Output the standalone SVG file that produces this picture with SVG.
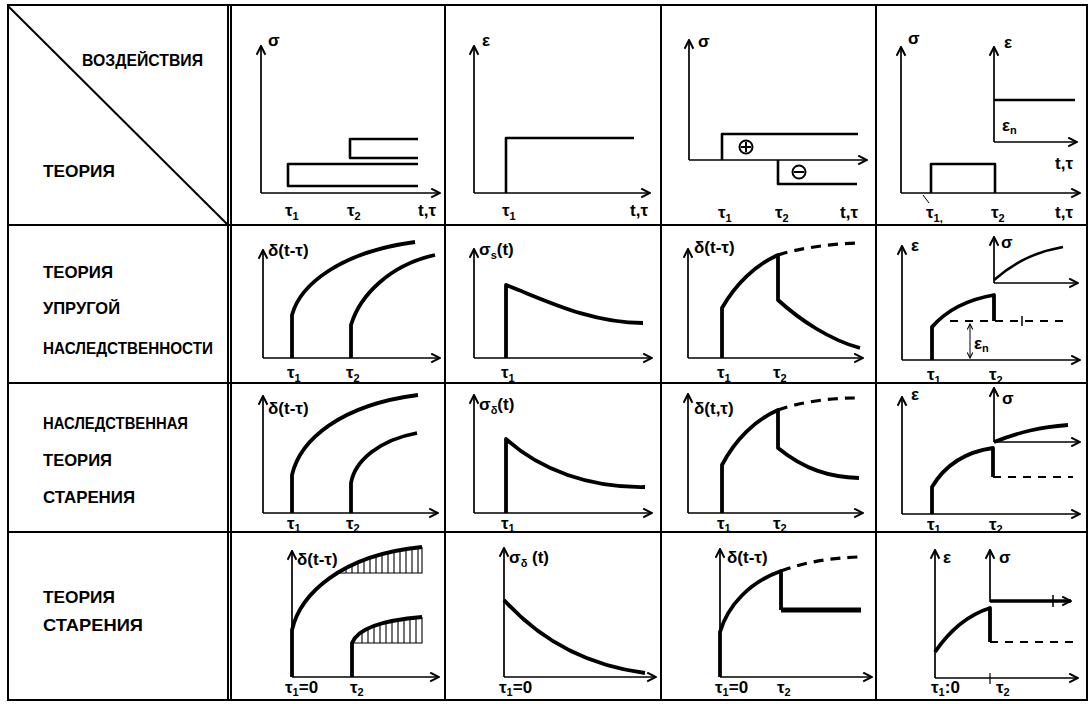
<svg xmlns="http://www.w3.org/2000/svg" width="1091" height="704" viewBox="0 0 1091 704">
<defs>
<marker id="ar" viewBox="0 0 10 10" refX="9" refY="5" markerWidth="11" markerHeight="11" markerUnits="userSpaceOnUse" orient="auto"><path d="M1,1 L9,5 L1,9" fill="none" stroke="#000" stroke-width="1.8"/></marker>
<marker id="ar2" viewBox="0 0 10 10" refX="9" refY="5" markerWidth="7" markerHeight="7" markerUnits="userSpaceOnUse" orient="auto-start-reverse"><path d="M1,1 L9,5 L1,9" fill="none" stroke="#000" stroke-width="1.5"/></marker>
<style>
.grid{stroke:#000;stroke-width:2;fill:none}
.ax{stroke:#000;stroke-width:1.7;fill:none;marker-end:url(#ar)}
.cv{stroke:#000;stroke-width:3.8;fill:none;stroke-linejoin:round}
.th{stroke:#000;stroke-width:2.6;fill:none;stroke-linejoin:round}
.ds{stroke:#000;stroke-width:3.2;fill:none;stroke-dasharray:10 7}
.dt{stroke:#000;stroke-width:1.8;fill:none;stroke-dasharray:8 7}
.ht{stroke:#000;stroke-width:1.1;fill:none}
.hd{font-family:"Liberation Sans","DejaVu Sans",sans-serif;font-weight:bold;font-size:17px;fill:#000}
.lb{font-family:"Liberation Sans","DejaVu Sans",sans-serif;font-weight:bold;font-size:17px;fill:#000}
.sb{font-size:11px}
</style>
</defs>
<rect width="1091" height="704" fill="#fff"/>

<g id="grid">
<rect class="grid" x="8" y="5" width="1079" height="695"/>
<line class="grid" x1="228" y1="5" x2="228" y2="700"/>
<line class="grid" x1="231" y1="5" x2="231" y2="700" stroke-width="1.2"/>
<line class="grid" x1="445" y1="5" x2="445" y2="700" stroke-width="1.5"/>
<line class="grid" x1="661" y1="5" x2="661" y2="700" stroke-width="1.5"/>
<line class="grid" x1="876" y1="5" x2="876" y2="700" stroke-width="1.5"/>
<line class="grid" x1="8" y1="225" x2="1087" y2="225" stroke-width="1.6"/>
<line class="grid" x1="8" y1="383" x2="1087" y2="383" stroke-width="1.6"/>
<line class="grid" x1="8" y1="532" x2="1087" y2="532" stroke-width="1.6"/>
<line class="grid" x1="8" y1="6" x2="228" y2="225" stroke-width="1.6"/>
</g>

<g id="headers">
<text class="hd" x="82" y="66" textLength="121" lengthAdjust="spacingAndGlyphs">ВОЗДЕЙСТВИЯ</text>
<text class="hd" x="43" y="177" textLength="72" lengthAdjust="spacingAndGlyphs">ТЕОРИЯ</text>
<text class="hd" x="43" y="278" textLength="70" lengthAdjust="spacingAndGlyphs">ТЕОРИЯ</text>
<text class="hd" x="43" y="314" textLength="77" lengthAdjust="spacingAndGlyphs">УПРУГОЙ</text>
<text class="hd" x="43" y="354" textLength="170" lengthAdjust="spacingAndGlyphs">НАСЛЕДСТВЕННОСТИ</text>
<text class="hd" x="43" y="429" textLength="145" lengthAdjust="spacingAndGlyphs">НАСЛЕДСТВЕННАЯ</text>
<text class="hd" x="43" y="466" textLength="69" lengthAdjust="spacingAndGlyphs">ТЕОРИЯ</text>
<text class="hd" x="43" y="503" textLength="92" lengthAdjust="spacingAndGlyphs">СТАРЕНИЯ</text>
<text class="hd" x="43" y="603" textLength="72" lengthAdjust="spacingAndGlyphs">ТЕОРИЯ</text>
<text class="hd" x="43" y="631" textLength="100" lengthAdjust="spacingAndGlyphs">СТАРЕНИЯ</text>
</g>

<g id="r1c1">
<line class="ax" x1="261" y1="193" x2="261" y2="46"/>
<line class="ax" x1="261" y1="193" x2="440" y2="193"/>
<text class="lb" x="268" y="46" font-size="19">σ</text>
<path class="th" d="M418,164 H288 V186 H418"/>
<path class="th" d="M418,139 H350 V158 H418"/>
<text class="lb" x="285" y="216">τ<tspan class="sb" dy="4">1</tspan></text>
<text class="lb" x="347" y="216">τ<tspan class="sb" dy="4">2</tspan></text>
<text class="lb" x="418" y="216">t,τ</text>
</g>

<g id="r1c2">
<line class="ax" x1="474" y1="193" x2="474" y2="46"/>
<line class="ax" x1="474" y1="193" x2="650" y2="193"/>
<text class="lb" x="482" y="46" font-size="19">ε</text>
<path class="th" d="M506,193 V138 H634"/>
<text class="lb" x="502" y="216">τ<tspan class="sb" dy="4">1</tspan></text>
<text class="lb" x="630" y="216">t,τ</text>
</g>

<g id="r1c3">
<line class="ax" x1="689" y1="160" x2="689" y2="40"/>
<line class="ax" x1="689" y1="160" x2="867" y2="160"/>
<text class="lb" x="698" y="47" font-size="19">σ</text>
<path class="th" d="M722,160 V134 H858"/>
<path class="th" d="M778,160 V184 H857"/>
<circle cx="746" cy="147" r="6.5" fill="none" stroke="#000" stroke-width="2"/>
<path d="M741,147 H751 M746,142 V152" stroke="#000" stroke-width="2"/>
<circle cx="799" cy="172" r="6.5" fill="none" stroke="#000" stroke-width="2"/>
<path d="M794,172 H804" stroke="#000" stroke-width="2"/>
<text class="lb" x="718" y="218">τ<tspan class="sb" dy="4">1</tspan></text>
<text class="lb" x="775" y="218">τ<tspan class="sb" dy="4">2</tspan></text>
<text class="lb" x="840" y="218">t,τ</text>
</g>

<g id="r1c4">
<line class="ax" x1="901" y1="193" x2="901" y2="47"/>
<line class="ax" x1="901" y1="193" x2="1080" y2="193"/>
<text class="lb" x="908" y="44" font-size="19">σ</text>
<path class="th" d="M931,193 V164 H995 V193" stroke-width="2.2"/>
<line class="ax" x1="994" y1="142" x2="994" y2="47"/>
<line class="ax" x1="994" y1="142" x2="1077" y2="142"/>
<text class="lb" x="1004" y="48" font-size="19">ε</text>
<path class="th" d="M994,100 H1075"/>
<text class="lb" x="1002" y="131">ε<tspan class="sb" dy="3">n</tspan></text>
<text class="lb" x="1055" y="169">t,τ</text>
<line x1="923" y1="195" x2="929" y2="203" stroke="#000" stroke-width="1"/>
<text class="lb" x="926" y="218">τ<tspan class="sb" dy="4">1,</tspan></text>
<text class="lb" x="991" y="218">τ<tspan class="sb" dy="4">2</tspan></text>
<text class="lb" x="1055" y="218">t,τ</text>
</g>

<g id="r2c1">
<line class="ax" x1="263" y1="358" x2="263" y2="250"/>
<line class="ax" x1="263" y1="358" x2="440" y2="358"/>
<text class="lb" x="268" y="256">δ(t-τ)</text>
<path class="cv" d="M292,358 V315 C300,285 340,252 415,242"/>
<path class="cv" d="M351,358 V325 C360,295 390,265 435,255"/>
<text class="lb" x="287" y="378">τ<tspan class="sb" dy="4">1</tspan></text>
<text class="lb" x="346" y="378">τ<tspan class="sb" dy="4">2</tspan></text>
</g>

<g id="r2c2">
<line class="ax" x1="474" y1="358" x2="474" y2="249"/>
<line class="ax" x1="474" y1="358" x2="652" y2="358"/>
<text class="lb" x="479" y="255">σ<tspan class="sb" dy="4">s</tspan><tspan dy="-4">(t)</tspan></text>
<path class="cv" d="M506,358 V285 C545,300 590,323 643,323"/>
<text class="lb" x="501" y="378">τ<tspan class="sb" dy="4">1</tspan></text>
</g>

<g id="r2c3">
<line class="ax" x1="688" y1="358" x2="688" y2="249"/>
<line class="ax" x1="688" y1="358" x2="863" y2="358"/>
<text class="lb" x="694" y="253">δ(t-τ)</text>
<path class="cv" d="M722,358 V308 C735,285 755,265 778,255 V300 C800,320 830,340 860,348"/>
<path class="ds" d="M778,255 C800,248 830,244 858,243"/>
<text class="lb" x="717" y="378">τ<tspan class="sb" dy="4">1</tspan></text>
<text class="lb" x="773" y="378">τ<tspan class="sb" dy="4">2</tspan></text>
</g>

<g id="r2c4">
<line class="ax" x1="902" y1="360" x2="902" y2="246"/>
<line class="ax" x1="902" y1="360" x2="1080" y2="360"/>
<text class="lb" x="911" y="251" font-size="19">ε</text>
<path class="cv" d="M932,360 V327 C945,312 965,300 994,295 V321"/>
<path class="dt" d="M950,321 H1068"/>
<line x1="1022" y1="316" x2="1022" y2="326" stroke="#000" stroke-width="1.5"/>
<line x1="970" y1="324" x2="970" y2="358" stroke="#000" stroke-width="1" marker-start="url(#ar2)" marker-end="url(#ar2)"/>
<text class="lb" x="974" y="349">ε<tspan class="sb" dy="3">n</tspan></text>
<line class="ax" x1="994" y1="283" x2="994" y2="237"/>
<line class="ax" x1="994" y1="283" x2="1078" y2="283"/>
<text class="lb" x="1001" y="248">σ</text>
<path class="th" d="M994,280 C1015,262 1035,252 1063,247" stroke-width="3"/>
<text class="lb" x="927" y="380">τ<tspan class="sb" dy="4">1</tspan></text>
<text class="lb" x="989" y="380">τ<tspan class="sb" dy="4">2</tspan></text>
</g>

<g id="r3c1">
<line class="ax" x1="263" y1="513" x2="263" y2="396"/>
<line class="ax" x1="263" y1="513" x2="438" y2="513"/>
<text class="lb" x="268" y="414">δ(t-τ)</text>
<path class="cv" d="M292,513 V475 C300,440 340,405 418,395"/>
<path class="cv" d="M351,513 V483 C355,460 380,440 417,433"/>
<text class="lb" x="287" y="529">τ<tspan class="sb" dy="3">1</tspan></text>
<text class="lb" x="346" y="529">τ<tspan class="sb" dy="3">2</tspan></text>
</g>

<g id="r3c2">
<line class="ax" x1="474" y1="513" x2="474" y2="395"/>
<line class="ax" x1="474" y1="513" x2="652" y2="513"/>
<text class="lb" x="479" y="410">σ<tspan class="sb" dy="4">δ</tspan><tspan dy="-4">(t)</tspan></text>
<path class="cv" d="M506,513 V439 C540,470 590,488 645,487"/>
<text class="lb" x="501" y="529">τ<tspan class="sb" dy="3">1</tspan></text>
</g>

<g id="r3c3">
<line class="ax" x1="688" y1="513" x2="688" y2="394"/>
<line class="ax" x1="688" y1="513" x2="863" y2="513"/>
<text class="lb" x="694" y="414">δ(t,τ)</text>
<path class="cv" d="M722,513 V465 C735,440 755,420 778,410 V448 C805,470 830,477 859,478"/>
<path class="ds" d="M778,410 C800,402 830,398 855,398"/>
<text class="lb" x="717" y="529">τ<tspan class="sb" dy="3">1</tspan></text>
<text class="lb" x="773" y="529">τ<tspan class="sb" dy="3">2</tspan></text>
</g>

<g id="r3c4">
<line class="ax" x1="902" y1="514" x2="902" y2="397"/>
<line class="ax" x1="902" y1="514" x2="1080" y2="514"/>
<text class="lb" x="911" y="400" font-size="19">ε</text>
<path class="cv" d="M932,514 V487 C945,465 965,452 993,448 V477"/>
<path class="dt" d="M993,477 H1073"/>
<line class="ax" x1="994" y1="442" x2="994" y2="388"/>
<line class="ax" x1="994" y1="442" x2="1080" y2="442"/>
<text class="lb" x="1002" y="404" font-size="19">σ</text>
<path class="cv" d="M994,442 C1020,432 1040,427 1068,425"/>
<text class="lb" x="927" y="530">τ<tspan class="sb" dy="3">1</tspan></text>
<text class="lb" x="989" y="530">τ<tspan class="sb" dy="3">2</tspan></text>
</g>

<g id="r4c1">
<line class="ax" x1="292" y1="677" x2="292" y2="551"/>
<line class="ax" x1="292" y1="677" x2="439" y2="677"/>
<text class="lb" x="297" y="565">δ(t-τ)</text>
<path class="cv" d="M292,677 V630 C300,595 340,555 422,547"/>
<path class="ht" d="M338,573 H422 V547 M346,568.5 V573 M352,566 V573 M358,562.5 V573 M364,560 V573 M370,558 V573 M376,556 V573 M382,554.5 V573 M388,553 V573 M394,551.5 V573 M400,550.3 V573 M406,549.5 V573 M412,548.5 V573 M418,547.7 V573"/>
<path class="cv" d="M352,677 V643 C358,628 385,620 422,617"/>
<path class="ht" d="M352,643 H422 V617 M362,633 V643 M368,629.5 V643 M374,626 V643 M380,624.5 V643 M386,623 V643 M392,621.5 V643 M398,620.7 V643 M404,619.7 V643 M410,618.5 V643 M416,617.6 V643"/>
<text class="lb" x="285" y="693">τ<tspan class="sb" dy="3">1</tspan><tspan dy="-3">=0</tspan></text>
<text class="lb" x="350" y="693">τ<tspan class="sb" dy="3">2</tspan></text>
</g>

<g id="r4c2">
<line class="ax" x1="504" y1="677" x2="504" y2="548"/>
<line class="ax" x1="504" y1="677" x2="656" y2="677"/>
<text class="lb" x="509" y="563">σ<tspan class="sb" dy="4">δ</tspan><tspan dy="-4"> (t)</tspan></text>
<path class="cv" d="M504,600 Q560,662 645,673"/>
<text class="lb" x="499" y="693">τ<tspan class="sb" dy="3">1</tspan><tspan dy="-3">=0</tspan></text>
</g>

<g id="r4c3">
<line class="ax" x1="720" y1="677" x2="720" y2="549"/>
<line class="ax" x1="720" y1="677" x2="872" y2="677"/>
<text class="lb" x="727" y="563">δ(t-τ)</text>
<path class="cv" d="M720,677 V632 C728,605 750,582 781,571 V610"/>
<path d="M781,610 H861" stroke="#000" stroke-width="5" fill="none"/>
<path class="ds" d="M781,571 C805,562 830,558 858,557"/>
<text class="lb" x="715" y="693">τ<tspan class="sb" dy="3">1</tspan><tspan dy="-3">=0</tspan></text>
<text class="lb" x="777" y="693">τ<tspan class="sb" dy="3">2</tspan></text>
</g>

<g id="r4c4">
<line class="ax" x1="935" y1="678" x2="935" y2="550"/>
<line class="ax" x1="935" y1="678" x2="1078" y2="678"/>
<text class="lb" x="943" y="563" font-size="19">ε</text>
<path class="cv" d="M935,652 C950,630 968,615 990,608 V642"/>
<path class="dt" d="M990,642 H1078"/>
<line class="ax" x1="990" y1="602" x2="990" y2="550"/>
<text class="lb" x="999" y="563" font-size="19">σ</text>
<path d="M990,601 H1071" stroke="#000" stroke-width="3.5" fill="none" marker-end="url(#ar)"/>
<line x1="1053" y1="595" x2="1053" y2="607" stroke="#000" stroke-width="1.5"/>
<line x1="990" y1="673" x2="990" y2="684" stroke="#000" stroke-width="1.2"/>
<text class="lb" x="931" y="693">τ<tspan class="sb" dy="3">1</tspan><tspan dy="-3">:0</tspan></text>
<text class="lb" x="996" y="693">τ<tspan class="sb" dy="3">2</tspan></text>
</g>
</svg>
